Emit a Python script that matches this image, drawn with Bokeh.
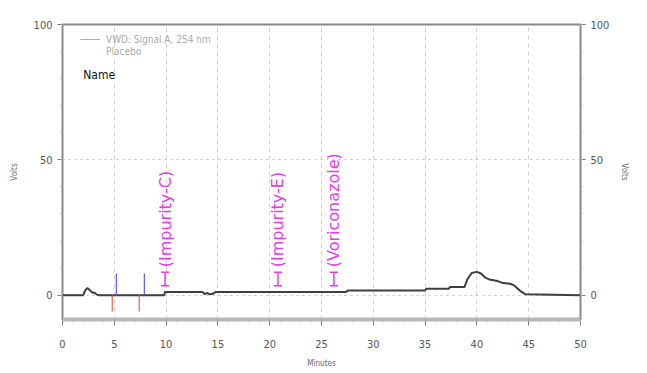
import numpy as np
from bokeh.plotting import figure
from bokeh.models import (LinearAxis, Range1d, FixedTicker, Legend, LegendItem,
                          Label, ColumnDataSource)
from bokeh.core.properties import value
from bokeh.embed import file_html
from bokeh.resources import INLINE

FONT = "DejaVu Sans Condensed"
PEAK_FONT = "DejaVu Sans"

# chromatogram trace (minutes, volts)
time = [0, 2.0, 2.2, 2.4, 2.6, 2.9, 3.1, 3.3, 3.5, 9.8, 9.9, 13.5, 13.7, 14.0,
        14.2, 14.5, 14.8, 27.4, 27.5, 35.0, 35.1, 37.3, 37.4, 38.8, 39.1, 39.5,
        40.0, 40.4, 40.8, 41.2, 42.0, 42.4, 43.2, 43.6, 44.2, 44.7, 50]
signal = [0, 0, 1.8, 2.6, 2.0, 0.9, 0.9, 0.2, 0, 0, 1.2, 1.2, 0.4, 0.8,
          0.3, 0.5, 1.2, 1.2, 1.7, 1.7, 2.4, 2.4, 3.0, 3.0, 6.0, 8.2,
          8.6, 8.0, 6.5, 5.8, 5.2, 4.6, 4.2, 3.6, 1.5, 0.3, 0]

# integration event markers
start_events = [4.8, 7.4]
start_depth = [-6, -6]
end_events = [5.2, 7.9]
end_height = [8, 8]

# named peaks
peak_names = ["(Impurity-C)", "(Impurity-E)", "(Voriconazole)"]
peak_times = [9.9, 20.8, 26.2]
marker_low = [3.5, 3.5, 3.5]
marker_high = [8.5, 8.5, 8.5]
label_base = [10.3, 10.3, 10.3]

x_ticks = [0, 5, 10, 15, 20, 25, 30, 35, 40, 45, 50]
y_ticks = [0, 50, 100]

p = figure(width=640, height=370, output_backend="svg", toolbar_location=None,
           x_range=Range1d(0, 50), y_range=Range1d(-9, 100),
           min_border_left=62, min_border_right=60, min_border_top=24,
           min_border_bottom=50, background_fill_color="white",
           border_fill_color="white")
p.outline_line_color = "#8a8a8a"
p.outline_line_width = 2

# grids
p.xgrid.ticker = FixedTicker(ticks=x_ticks)
p.xgrid.grid_line_color = "#d0d0d0"
p.xgrid.grid_line_dash = "4 4"
p.ygrid.ticker = FixedTicker(ticks=y_ticks)
p.ygrid.grid_line_color = "#c0c0c0"
p.ygrid.grid_line_dash = "2 4"

# axes
def style_axis(ax):
    ax.axis_line_color = "#8a8a8a"
    ax.major_tick_line_color = "#777777"
    ax.minor_tick_line_color = "#aaaaaa"
    ax.major_tick_out = 5
    ax.major_tick_in = 0
    ax.minor_tick_out = 2
    ax.minor_tick_in = 0
    ax.major_label_text_font = FONT
    ax.major_label_text_font_size = "11px"
    ax.major_label_text_color = "#555555"
    ax.axis_label_text_font = FONT
    ax.axis_label_text_font_size = "8px"
    ax.axis_label_text_font_style = "normal"
    ax.axis_label_text_color = "#666666"

xa = p.xaxis[0]
xa.ticker = FixedTicker(ticks=x_ticks, minor_ticks=list(range(0, 51)))
xa.axis_label = "Minutes"
style_axis(xa)
xa.axis_line_width = 4
xa.axis_line_color = "#b8b8b8"
xa.major_tick_out = 6
xa.major_label_standoff = 14
xa.axis_label_standoff = 8

ya = p.yaxis[0]
ya.ticker = FixedTicker(ticks=y_ticks, minor_ticks=list(range(0, 101, 10)))
ya.axis_label = "Volts"
style_axis(ya)
ya.axis_label_standoff = 12

yr = LinearAxis(ticker=FixedTicker(ticks=y_ticks, minor_ticks=list(range(0, 101, 10))),
                axis_label="Volts")
style_axis(yr)
yr.axis_label_standoff = 8
p.add_layout(yr, "right")

# trace (a thin light copy underneath serves as the legend swatch)
legend_line = p.line(time, signal, line_color="#b0b0b0", line_width=1)
trace = p.line(time, signal, line_color="#3f3f3f", line_width=2)
dummy = p.line([], [], line_alpha=0)

# event markers
p.segment(x0=start_events, y0=[0] * len(start_events), x1=start_events,
          y1=start_depth, line_color="#e8603c", line_width=1.2)
p.segment(x0=end_events, y0=[0] * len(end_events), x1=end_events,
          y1=end_height, line_color="#5a5aff", line_width=1.2)

# peak markers and names
src = ColumnDataSource(dict(t=peak_times, lo=marker_low, hi=marker_high,
                            base=label_base, name=peak_names))
p.segment(x0="t", y0="lo", x1="t", y1="hi", source=src,
          line_color="#e43ce4", line_width=1.5)
p.dash(x="t", y="lo", size=8, source=src, line_color="#e43ce4", line_width=1.5)
p.dash(x="t", y="hi", size=8, source=src, line_color="#e43ce4", line_width=1.5)
p.text(x="t", y="base", text="name", source=src, angle=np.pi / 2,
       text_align="left", text_baseline="middle", text_color="#e43ce4",
       text_font=value(PEAK_FONT), text_font_size="16px")

# legend
legend = Legend(items=[LegendItem(label="VWD: Signal A, 254 nm", renderers=[legend_line]),
                       LegendItem(label="Placebo", renderers=[dummy])],
                location=(18, 262), margin=0, padding=0, spacing=0,
                border_line_color=None, background_fill_alpha=0,
                label_text_font=FONT, label_text_font_size="10px",
                label_text_color="#aaaaaa", label_height=12, glyph_height=12,
                glyph_width=20, label_standoff=6)
p.add_layout(legend)

p.add_layout(Label(x=2, y=81.5, text="Name", text_font=FONT,
                   text_font_size="12px", text_color="#111111",
                   text_baseline="middle"))

open("out.html", "w").write(file_html(p, INLINE))
